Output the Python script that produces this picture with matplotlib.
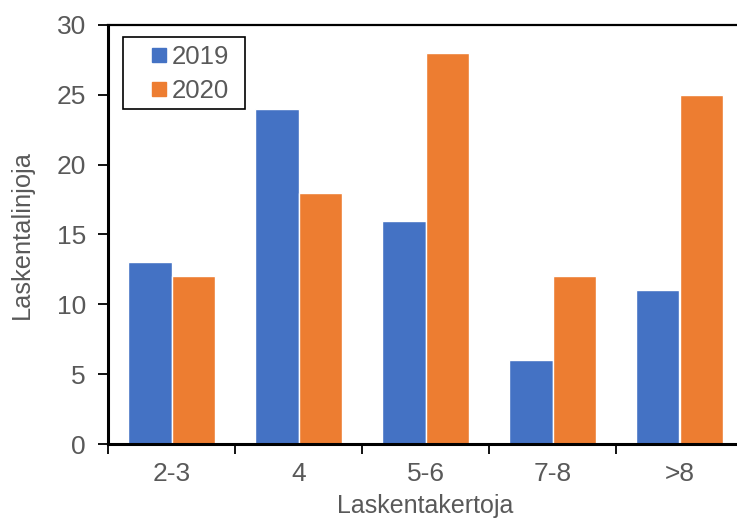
import matplotlib
matplotlib.use("Agg")
import matplotlib.pyplot as plt
from matplotlib.lines import Line2D
from matplotlib.patches import Rectangle
import numpy as np

categories = ["2-3", "4", "5-6", "7-8", ">8"]
values_2019 = [13, 24, 16, 6, 11]
values_2020 = [12, 18, 28, 12, 25]
series_labels = ["2019", "2020"]
y_ticks = [0, 5, 10, 15, 20, 25, 30]

plt.rcParams["font.family"] = ["Liberation Sans", "DejaVu Sans"]
text_gray = "#595959"
blue, orange = "#4472C4", "#ED7D31"

fig = plt.figure(figsize=(7.37, 5.20), dpi=100)
# axes run a little past the right edge of the canvas
ax = fig.add_axes([108 / 737, 1 - 444 / 520, (743 - 108) / 737, (444 - 25) / 520])

x = np.arange(len(categories))
w = 0.34
ax.bar(x - w / 2, values_2019, w, color=blue, edgecolor="white", linewidth=1.0, zorder=2)
ax.bar(x + w / 2, values_2020, w, color=orange, edgecolor="white", linewidth=1.0, zorder=2)

ax.set_xlim(-0.5, len(categories) - 0.5)
ax.set_ylim(0, 30)
ax.set_yticks(y_ticks)
ax.set_xticks(x)
ax.set_xticklabels(categories)
ax.set_xticks(np.arange(-0.5, len(categories) - 0.5, 1.0), minor=True)

ax.tick_params(axis="x", which="major", length=0, pad=13, labelsize=19, labelcolor=text_gray)
ax.tick_params(axis="x", which="minor", length=7, width=1.3, color="black", direction="out")
ax.tick_params(axis="y", which="major", length=7, width=1.3, color="black", direction="out",
               pad=9, labelsize=19, labelcolor=text_gray)

for side in ["left", "bottom"]:
    ax.spines[side].set_linewidth(2.2)
    ax.spines[side].set_color("black")
ax.spines["top"].set_linewidth(1.6)
ax.spines["top"].set_color("black")
ax.spines["right"].set_visible(False)

ax.set_ylabel("Laskentalinjoja", fontsize=18.3, color=text_gray, labelpad=16)
ax.set_xlabel("Laskentakertoja", fontsize=18, color=text_gray, labelpad=6)

# legend: square markers, with a separately drawn frame
handles = [Line2D([], [], linestyle="none", marker="s", markersize=9.5,
                  markerfacecolor=c, markeredgecolor=c) for c in (blue, orange)]
leg = ax.legend(handles, series_labels, loc="upper left",
                bbox_to_anchor=((149 - 108) / 635, 1 - (45 - 25) / 419),
                fontsize=18.5, frameon=False, handlelength=0.75, handletextpad=0.12,
                borderpad=0, labelspacing=0.4, borderaxespad=0)
for t in leg.get_texts():
    t.set_color(text_gray)
ax.add_patch(Rectangle(((123 - 108) / 635, (444 - 109) / 419), 122 / 635, 72 / 419,
                       transform=ax.transAxes, facecolor="none", edgecolor="black",
                       linewidth=1.2, zorder=5))

fig.savefig("out.png", dpi=100)
